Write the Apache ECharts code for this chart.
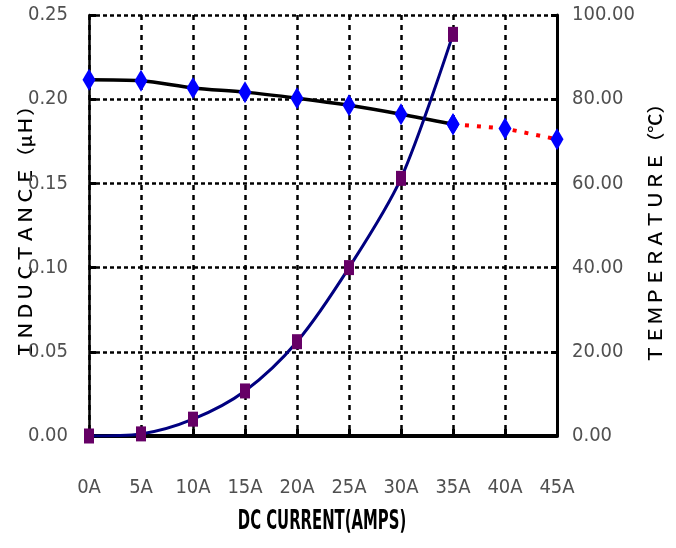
<!DOCTYPE html>
<html>
<head>
<meta charset="utf-8">
<script src="https://cdn.jsdelivr.net/npm/echarts@6/dist/echarts.min.js"></script>
<style>
  html, body { margin: 0; padding: 0; background: #fff; }
  #chart { width: 676px; height: 548px; }
</style>
</head>
<body>
<div id="chart"></div>
<script>
// DC current steps
const categories = ['0A', '5A', '10A', '15A', '20A', '25A', '30A', '35A', '40A', '45A'];
// Inductance (uH), measured range
const inductanceMeasured = [0.2115, 0.2109, 0.2067, 0.2042, 0.2006, 0.1964, 0.1911, 0.1851, null, null];
// Inductance (uH), extended range (dotted)
const inductanceExtended = [null, null, null, null, null, null, null, 0.1851, 0.1826, 0.1762];
// Temperature rise (°C)
const temperature = [0, 0.5, 4.0, 10.7, 22.4, 40.0, 61.2, 95.4, null, null];

const leftTicks = { min: 0, max: 0.25, interval: 0.05 };
const rightTicks = { min: 0, max: 100, interval: 20 };

const FONT = "'DejaVu Sans Condensed','DejaVu Sans'";
const CJK = "'Noto Sans CJK JP','Noto Sans CJK SC',sans-serif";

const chart = echarts.init(document.getElementById('chart'));
chart.setOption({
  animation: false,
  backgroundColor: '#ffffff',
  grid: { left: 89, right: 119, top: 15, bottom: 112 },
  xAxis: {
    type: 'category',
    data: categories,
    boundaryGap: false,
    axisLine: { lineStyle: { color: '#000', width: 4 } },
    axisTick: { inside: true, length: 7, lineStyle: { color: '#000', width: 3 } },
    axisLabel: { color: '#505050', fontFamily: FONT, fontSize: 20, margin: 42 },
    splitLine: { show: true, lineStyle: { color: '#000', width: 2.5, type: [5, 5] } }
  },
  yAxis: [
    {
      type: 'value',
      min: leftTicks.min, max: leftTicks.max, interval: leftTicks.interval,
      axisLine: { show: true, lineStyle: { color: '#000', width: 2.5 } },
      axisTick: { show: true, inside: true, length: 7, lineStyle: { color: '#000', width: 3 } },
      axisLabel: { color: '#505050', fontFamily: FONT, fontSize: 20, margin: 21,
        formatter: v => v.toFixed(2) },
      splitLine: { show: true, lineStyle: { color: '#000', width: 2.5, type: [4, 3] } }
    },
    {
      type: 'value',
      position: 'right',
      min: rightTicks.min, max: rightTicks.max, interval: rightTicks.interval,
      axisLine: { show: true, lineStyle: { color: '#000', width: 3 } },
      axisTick: { show: true, inside: true, length: 6, lineStyle: { color: '#000', width: 3 } },
      axisLabel: { color: '#505050', fontFamily: FONT, fontSize: 20, margin: 15,
        formatter: v => v.toFixed(2) },
      splitLine: { show: false }
    }
  ],
  series: [
    {
      name: 'Inductance',
      type: 'line',
      data: inductanceMeasured,
      yAxisIndex: 0,
      smooth: 0.3,
      lineStyle: { color: '#000', width: 3.5 },
      symbol: 'diamond',
      symbolSize: [13, 22],
      itemStyle: { color: '#0000ff' },
      z: 3
    },
    {
      name: 'Inductance (extended)',
      type: 'line',
      data: inductanceExtended,
      yAxisIndex: 0,
      lineStyle: { color: '#ff0000', width: 4, type: [4, 8] },
      symbol: 'diamond',
      symbolSize: [13, 22],
      itemStyle: { color: '#0000ff' },
      z: 3
    },
    {
      name: 'Temperature',
      type: 'line',
      data: temperature,
      yAxisIndex: 1,
      smooth: 0.3,
      lineStyle: { color: '#000080', width: 3 },
      symbol: 'rect',
      symbolSize: [10, 15],
      itemStyle: { color: '#660066' },
      z: 4
    }
  ],
  graphic: [
    {
      type: 'text',
      x: 322, y: 522, scaleX: 0.55,
      style: { text: 'DC CURRENT(AMPS)', fill: '#000', font: `bold 27px 'DejaVu Sans'`,
        textAlign: 'center', textVerticalAlign: 'middle' }
    },
    {
      type: 'text',
      x: 25, y: 228, rotation: Math.PI / 2, scaleX: 1.07,
      style: { text: 'ＩＮＤＵＣＴＡＮＣＥ（μＨ）', fill: '#000', font: `500 18px ${CJK}`,
        textAlign: 'center', textVerticalAlign: 'middle' }
    },
    {
      type: 'text',
      x: 655, y: 229, rotation: Math.PI / 2, scaleX: 1.07,
      style: { text: 'ＴＥＭＰＥＲＡＴＵＲＥ（℃）', fill: '#000', font: `500 18px ${CJK}`,
        textAlign: 'center', textVerticalAlign: 'middle' }
    }
  ]
});
</script>
</body>
</html>
